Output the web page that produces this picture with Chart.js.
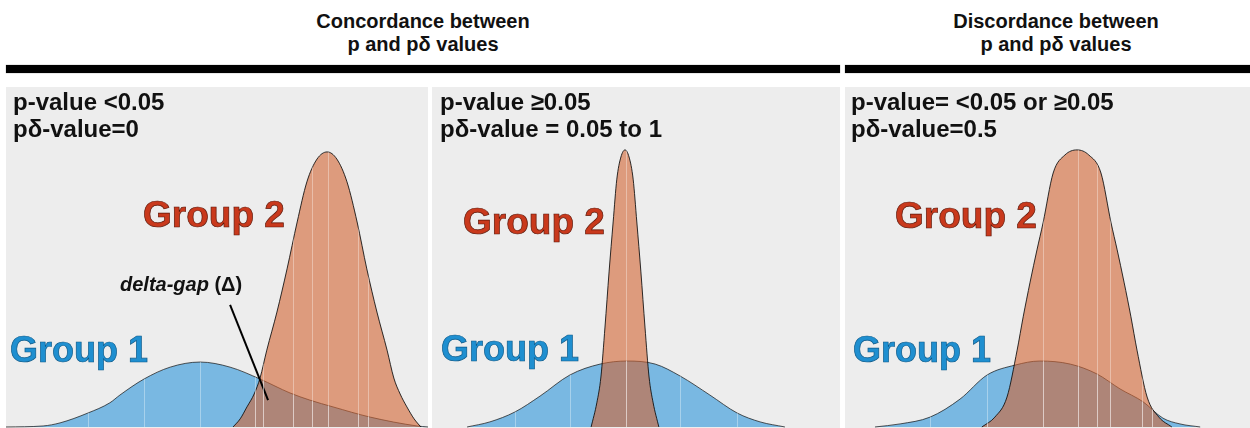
<!DOCTYPE html>
<html>
<head>
<meta charset="utf-8">
<script src="https://cdn.jsdelivr.net/npm/chart.js@4.4.1/dist/chart.umd.min.js"></script>
<style>
  body { margin: 0; width: 1250px; height: 428px; background: #fff; position: relative; overflow: hidden;
         font-family: "Liberation Sans", Arial, sans-serif; font-weight: bold; }
  .head { position: absolute; top: 10px; text-align: center; font-size: 20px; line-height: 23px; color: #111; }
  .bar { position: absolute; top: 65px; height: 8px; background: #000; box-shadow: 0 0 1px #777; }
  .panel { position: absolute; top: 87px; height: 341px; background: #ededed; }
  .panel canvas { position: absolute; left: 0; top: 0; }
  .lab { position: absolute; top: 88px; font-size: 24px; line-height: 27px; color: #111; white-space: nowrap; }
  .grp { position: absolute; white-space: nowrap; }
  .g1 { font-size: 36px; line-height: 36px; color: #1f8fd0; -webkit-text-stroke: 0.7px #0c5a8a; }
  .g2 { font-size: 37px; line-height: 37px; color: #c9391c; -webkit-text-stroke: 0.7px #5b1608; }
  .gap { position: absolute; left: 120px; top: 274px; font-size: 20px; line-height: 20px; color: #111; }
</style>
</head>
<body>
<div class="head" style="left:6px;width:834px">Concordance between<br>p and pδ values</div>
<div class="head" style="left:845px;width:422px">Discordance between<br>p and pδ values</div>
<div class="bar" style="left:6px;width:834px"></div>
<div class="bar" style="left:845px;width:405px"></div>

<div class="panel" style="left:6px;width:422px"><canvas id="p1" width="422" height="341"></canvas></div>
<div class="panel" style="left:432px;width:408px"><canvas id="p2" width="408" height="341"></canvas></div>
<div class="panel" style="left:845px;width:405px"><canvas id="p3" width="405" height="341"></canvas></div>

<div class="lab" style="left:13px" id="t1"></div>
<div class="lab" style="left:440px" id="t2"></div>
<div class="lab" style="left:851px" id="t3"></div>

<div class="grp g2" style="left:143px;top:196px">Group 2</div>
<div class="grp g2" style="left:463px;top:203px">Group 2</div>
<div class="grp g2" style="left:895px;top:197px">Group 2</div>
<div class="grp g1" style="left:10px;top:332px">Group 1</div>
<div class="grp g1" style="left:441px;top:331px">Group 1</div>
<div class="grp g1" style="left:853px;top:332px">Group 1</div>
<div class="gap"><i>delta-gap</i> (Δ)</div>

<script>
// panel captions
const pLabels = ['p-value <0.05', 'p-value ≥0.05', 'p-value= <0.05 or ≥0.05'];
const pdLabels = ['pδ-value=0', 'pδ-value = 0.05 to 1', 'pδ-value=0.5'];

// density curves, x in score units (0-10), y relative density (0-1)
const p1Group1X = [0, 0.88, 1.28, 1.94, 2.46, 2.70, 3.27, 3.89, 4.60, 5.31, 6.02, 6.73, 7.20, 7.75, 8.63, 9.74, 10];
const p1Group1Y = [0, 0.003, 0.012, 0.041, 0.071, 0.094, 0.141, 0.176, 0.191, 0.176, 0.141, 0.100, 0.079, 0.059, 0.029, 0.003, 0];
const p1Group2X = [5.38, 5.55, 5.71, 5.88, 6.02, 6.18, 6.42, 6.66, 6.90, 7.13, 7.37, 7.61, 7.84, 8.08, 8.32, 8.55, 8.79, 9.03, 9.19, 9.34, 9.50, 9.67, 9.83];
const p1Group2Y = [0, 0.024, 0.059, 0.097, 0.144, 0.226, 0.338, 0.465, 0.603, 0.721, 0.788, 0.809, 0.788, 0.721, 0.603, 0.465, 0.338, 0.226, 0.144, 0.097, 0.059, 0.024, 0];

const p2Group1X = [0.86, 1.42, 2.03, 2.65, 3.38, 4.12, 4.78, 5.47, 6.08, 6.81, 7.48, 8.04, 8.65];
const p2Group1Y = [0, 0.015, 0.044, 0.091, 0.153, 0.185, 0.194, 0.185, 0.150, 0.094, 0.041, 0.015, 0];
const p2Group2X = [3.90, 4.04, 4.14, 4.24, 4.34, 4.44, 4.53, 4.63, 4.73, 4.83, 4.93, 5.02, 5.12, 5.22, 5.32, 5.42, 5.56];
const p2Group2Y = [0, 0.071, 0.147, 0.294, 0.456, 0.603, 0.729, 0.794, 0.815, 0.794, 0.729, 0.603, 0.456, 0.294, 0.147, 0.071, 0];

const p3Group1X = [0.74, 1.36, 2.10, 2.84, 3.51, 4.20, 4.81, 5.56, 6.22, 6.79, 7.36, 7.85, 8.27, 8.77];
const p3Group1Y = [0, 0.009, 0.029, 0.082, 0.153, 0.182, 0.194, 0.185, 0.156, 0.112, 0.074, 0.026, 0.009, 0];
const p3Group2X = [3.38, 3.70, 4.00, 4.25, 4.40, 4.57, 4.74, 4.89, 5.14, 5.43, 5.73, 6.02, 6.32, 6.57, 6.72, 6.89, 7.06, 7.21, 7.46, 7.75, 8.07];
const p3Group2Y = [0, 0.029, 0.088, 0.226, 0.324, 0.426, 0.521, 0.600, 0.747, 0.800, 0.815, 0.800, 0.747, 0.600, 0.521, 0.426, 0.324, 0.226, 0.088, 0.029, 0];

// pointer for the delta-gap label (panel 1)
const gapPointerX = [5.31, 6.21];
const gapPointerY = [0.359, 0.079];

// light slices visible inside the filled areas
const p1Slices = [1.94, 3.27, 4.60, 5.90, 6.09, 6.80, 7.25, 7.63, 8.34, 8.58];
const p2Slices = [2.03, 3.38, 4.75, 6.08, 7.48];
const p3Slices = [2.10, 3.51, 4.89, 5.75, 6.22, 6.54, 7.33, 7.58];

['t1', 't2', 't3'].forEach((id, i) => {
    document.getElementById(id).innerHTML = pLabels[i] + '<br>' + pdLabels[i];
});

const zip = (xs, ys) => xs.map((x, i) => ({x, y: ys[i]}));

const slicePlugin = {
    id: 'slices',
    afterDatasetsDraw(chart, args, opts) {
        const {ctx, chartArea, scales: {x, y}} = chart;
        const base = y.getPixelForValue(0);
        chart.data.datasets.forEach((ds, i) => {
            if (!ds.fill) return;
            const meta = chart.getDatasetMeta(i);
            const pts = meta.data;
            ctx.save();
            ctx.beginPath();
            meta.dataset.path(ctx);
            ctx.lineTo(pts[pts.length - 1].x, base);
            ctx.lineTo(pts[0].x, base);
            ctx.closePath();
            ctx.clip();
            ctx.strokeStyle = 'rgba(255,255,255,0.35)';
            ctx.lineWidth = 1;
            for (const v of opts.at) {
                const px = Math.round(x.getPixelForValue(v)) + 0.5;
                ctx.beginPath();
                ctx.moveTo(px, chartArea.top);
                ctx.lineTo(px, base);
                ctx.stroke();
            }
            ctx.restore();
        });
    }
};

const makePanel = (id, g1x, g1y, g2x, g2y, slices, extra) => {
    const datasets = [
        {
            label: 'Group 2',
            data: zip(g2x, g2y),
            backgroundColor: 'rgba(210,100,50,0.6)',
            borderColor: 'rgba(10,10,10,0.85)',
            fill: 'origin',
            order: 1
        },
        {
            label: 'Group 1',
            data: zip(g1x, g1y),
            backgroundColor: 'rgba(44,149,219,0.6)',
            borderColor: 'rgba(30,30,30,0.75)',
            fill: 'origin',
            order: 2
        }
    ];
    if (extra) datasets.push(extra);
    new Chart(document.getElementById(id), {
        type: 'line',
        data: {datasets},
        plugins: [slicePlugin],
        options: {
            responsive: false,
            animation: false,
            events: [],
            layout: {padding: 0},
            elements: {
                point: {radius: 0},
                line: {borderWidth: 1, cubicInterpolationMode: 'monotone'}
            },
            scales: {
                x: {type: 'linear', min: 0, max: 10, display: false},
                y: {min: -0.003, max: 1, display: false}
            },
            plugins: {
                legend: {display: false},
                tooltip: {enabled: false},
                slices: {at: slices}
            }
        }
    });
};

makePanel('p1', p1Group1X, p1Group1Y, p1Group2X, p1Group2Y, p1Slices, {
    label: 'delta-gap',
    data: zip(gapPointerX, gapPointerY),
    borderColor: '#000',
    borderWidth: 2,
    fill: false,
    cubicInterpolationMode: 'default',
    tension: 0,
    order: 0
});
makePanel('p2', p2Group1X, p2Group1Y, p2Group2X, p2Group2Y, p2Slices);
makePanel('p3', p3Group1X, p3Group1Y, p3Group2X, p3Group2Y, p3Slices);
</script>
</body>
</html>
